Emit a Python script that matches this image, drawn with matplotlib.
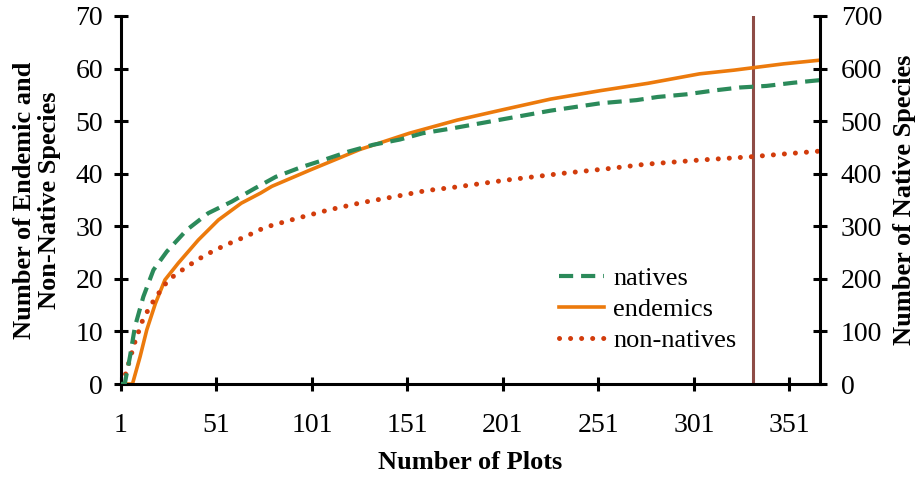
import matplotlib.pyplot as plt

# species accumulation curves (number of plots sampled vs. species found)
endemic_plots = [1, 7, 11, 14.5, 19, 24, 31, 41.5, 52, 64, 74, 80, 100, 126, 152,
                 177, 200, 226, 252, 277, 304, 322, 348, 367]
endemics = [0, 0, 5.2, 10.3, 15.3, 19.8, 23, 27.4, 31.2, 34.4, 36.3, 37.6, 40.7,
            44.6, 47.7, 50.2, 52.1, 54.2, 55.8, 57.2, 59.0, 59.7, 60.9, 61.6]

native_plots = [1, 3, 5.7, 8.3, 12.7, 18, 25, 35.4, 46.7, 59, 71, 82, 95, 107, 120,
                133, 147, 159, 174, 200, 226, 252, 271, 282, 297, 313, 325, 339,
                353, 367]
natives = [0, 1, 52, 109, 166, 217, 252, 293, 325, 347, 372, 394, 412, 426, 442,
           455, 465, 477, 486, 503, 520, 534, 540, 546, 551, 559, 564, 567, 573, 578]

nonnative_plots = [1, 3, 5, 8.3, 12.7, 18.8, 25.8, 35.4, 45, 55.5, 66, 76.4, 93,
                   109.6, 127, 143.7, 161, 175, 203, 233, 257, 275.5, 304, 330,
                   348, 367]
nonnatives = [0, 1.4, 3.9, 8, 12.5, 16.3, 19.8, 22.3, 24.5, 26.4, 28, 29.8, 31.5,
              33.1, 34.5, 35.6, 36.8, 37.4, 38.8, 40.1, 41.0, 41.8, 42.6, 43.2,
              43.75, 44.3]

cutoff = 332
xticks = [1, 51, 101, 151, 201, 251, 301, 351]

plt.rcParams['font.family'] = ['Liberation Serif', 'DejaVu Serif']

fig = plt.figure(figsize=(9.18, 4.79), dpi=100)
ax = fig.add_axes([0.1318, 0.1983, 0.7614, 0.7683])
ax2 = ax.twinx()

green = '#2b8a5a'
orange = '#ec7a0c'
red = '#d23c0c'

l_nat, = ax2.plot(native_plots, natives, color=green, lw=3.0,
                  linestyle=(0, (3.4, 1.9)), label='natives')
l_end, = ax.plot(endemic_plots, endemics, color=orange, lw=2.6, label='endemics')
l_non, = ax.plot(nonnative_plots, nonnatives, color=red, lw=3.6,
                 linestyle=(0, (0.01, 2.2)), dash_capstyle='round', label='non-natives')
ax.axvline(cutoff, color='#8e4c46', lw=2.2, zorder=1)

ax.set_xlim(1, 367)
ax.set_ylim(0, 70)
ax2.set_ylim(0, 700)
ax.set_xticks(xticks)
ax.set_yticks(range(0, 71, 10))
ax2.set_yticks(range(0, 701, 100))

for a in (ax, ax2):
    a.spines['top'].set_visible(False)
    for s in ('left', 'right', 'bottom'):
        a.spines[s].set_linewidth(2.2)
    a.tick_params(direction='inout', length=10, width=2.2, labelsize=20)
ax.spines['right'].set_visible(False)
ax2.spines['left'].set_visible(False)
ax2.spines['bottom'].set_visible(False)
ax.tick_params(axis='x', pad=16)
ax.tick_params(axis='y', pad=8)
ax2.tick_params(axis='y', pad=10)

ax.set_xlabel('Number of Plots', fontsize=19, fontweight='bold', labelpad=9)
ax.set_ylabel('Number of Endemic and\nNon-Native Species', fontsize=19,
              fontweight='bold', labelpad=10, linespacing=1.15)
ax2.set_ylabel('Number of Native Species', fontsize=19, fontweight='bold', labelpad=8)

ax.legend([l_nat, l_end, l_non], ['natives', 'endemics', 'non-natives'],
          loc='upper left', bbox_to_anchor=(0.608, 0.355), frameon=False, borderpad=0,
          fontsize=19, handlelength=1.7, handletextpad=0.35, labelspacing=0.28)

fig.savefig('out.png', dpi=100)
